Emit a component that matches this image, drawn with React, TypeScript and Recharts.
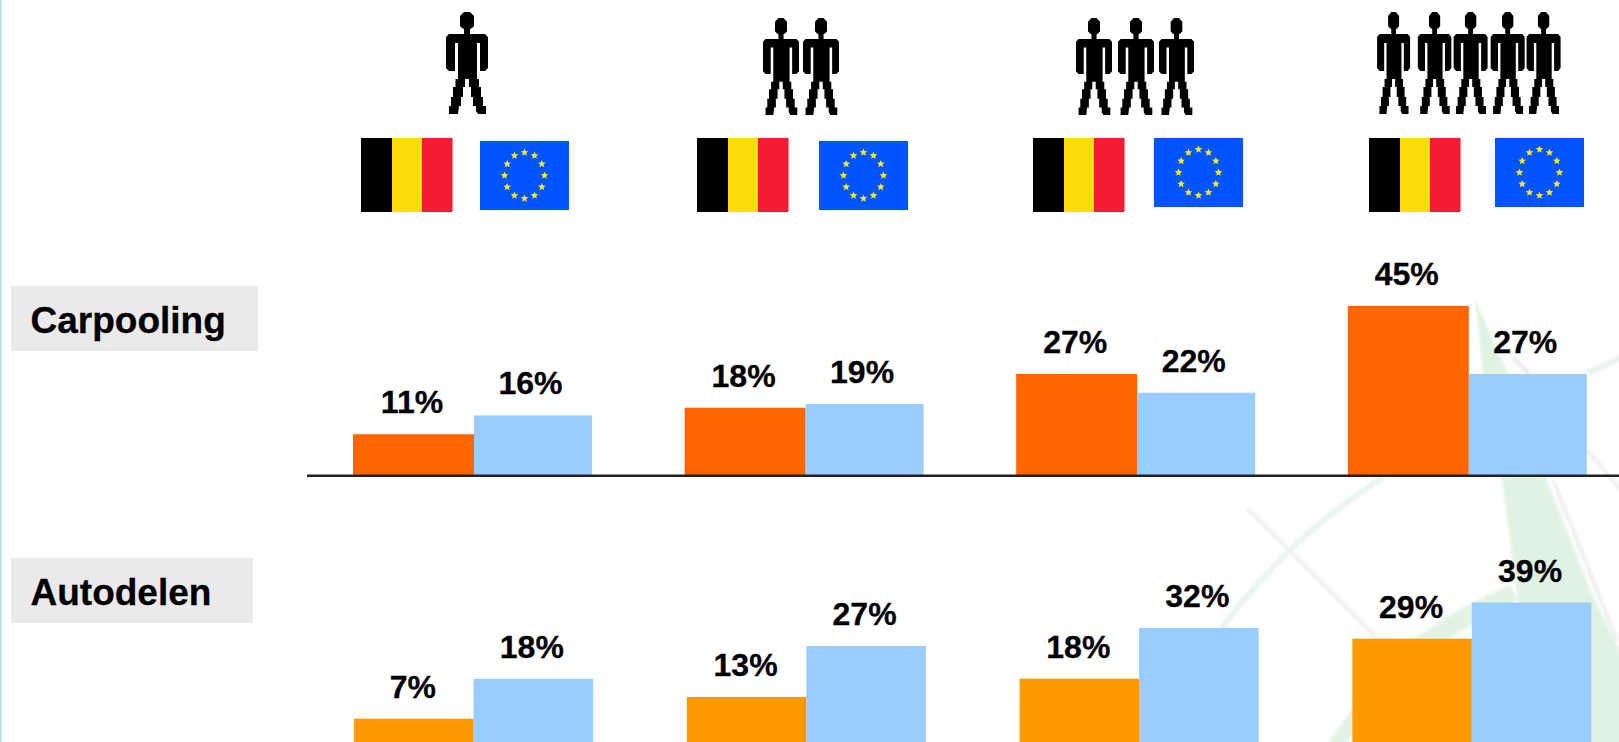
import React from "react";
import { BarChart, Bar, XAxis, YAxis, LabelList } from "recharts";

const categories = ["1 persoon", "2 personen", "3 personen", "5 personen"];
const carpoolingBelgium = [11, 18, 27, 45];
const carpoolingEurope = [16, 19, 22, 27];
const autodelenBelgium = [7, 13, 18, 29];
const autodelenEurope = [18, 27, 32, 39];

const carpoolingRows = categories.map((category, i) => ({
  category,
  belgium: carpoolingBelgium[i],
  europe: carpoolingEurope[i],
}));
const autodelenRows = categories.map((category, i) => ({
  category,
  belgium: autodelenBelgium[i],
  europe: autodelenEurope[i],
}));

const FONT = '"Liberation Sans", Arial, sans-serif';
const percent = (v: unknown) => `${v}%`;

const PERSON =
  "M-3,0 L3,0 L5,2 L7,4 L7,14 L5,16 L3,17 L3,22 L18,22 L21,25 L21,56 L18,59 L13,59 L13,31 L10,31 L10,67 L12,67 L12,75 L14,75 L14,85 L16,85 L16,94 L19,94 L19,102 L11,102 L9,99 L9,94 L6,94 L6,85 L4,85 L4,75 L2,75 L2,67 L-2,67 L-2,75 L-4,75 L-4,85 L-6,85 L-6,94 L-8,94 L-9,102 L-18,102 L-18,94 L-16,94 L-16,85 L-14,85 L-14,75 L-11.5,75 L-11.5,67 L-9,67 L-9,31 L-12,31 L-12,59 L-18,59 L-21,56 L-21,25 L-18,22 L-3,22 L-3,17 L-5,16 L-7,14 L-7,4 L-5,2 Z";

const people = [
  { cx: 467, top: 12, w: 42, h: 102 },
  { cx: 781, top: 18, w: 36, h: 97 },
  { cx: 821, top: 18, w: 36, h: 97 },
  { cx: 1094, top: 18, w: 36, h: 97 },
  { cx: 1136, top: 18, w: 36, h: 97 },
  { cx: 1176.5, top: 18, w: 35, h: 97 },
  { cx: 1393.6, top: 12, w: 33, h: 102 },
  { cx: 1434.6, top: 12, w: 33.5, h: 102 },
  { cx: 1470.6, top: 12, w: 34, h: 102 },
  { cx: 1507.7, top: 12, w: 34, h: 102 },
  { cx: 1543.6, top: 12, w: 34, h: 102 },
];

const belgianFlags = [361, 697, 1033, 1369];
const euFlags = [
  { x: 480, y: 141 },
  { x: 819, y: 141 },
  { x: 1154, y: 138 },
  { x: 1495, y: 138 },
];

function starPoints(cx: number, cy: number, r: number) {
  const pts: string[] = [];
  for (let i = 0; i < 10; i++) {
    const a = -Math.PI / 2 + (i * Math.PI) / 5;
    const rr = i % 2 === 0 ? r : r * 0.45;
    pts.push(`${(cx + rr * Math.cos(a)).toFixed(2)},${(cy + rr * Math.sin(a)).toFixed(2)}`);
  }
  return pts.join(" ");
}

function BelgianFlag({ x }: { x: number }) {
  return (
    <g>
      <rect x={x} y={138} width={31} height={74} fill="#000000" />
      <rect x={x + 31} y={138} width={30.5} height={74} fill="#FFDB0C" />
      <rect x={x + 61} y={138} width={30.5} height={74} fill="#F51B33" />
    </g>
  );
}

function EuFlag({ x, y }: { x: number; y: number }) {
  const cx = x + 44.5;
  const cy = y + 34.5;
  return (
    <g>
      <rect x={x} y={y} width={89} height={69} fill="#0055FF" />
      {Array.from({ length: 12 }, (_, i) => {
        const a = (i * Math.PI) / 6;
        return (
          <polygon
            key={i}
            points={starPoints(cx + 20 * Math.sin(a), cy - 23 * Math.cos(a), 4)}
            fill="#FFEA1E"
          />
        );
      })}
    </g>
  );
}

function Backdrop() {
  return (
    <svg
      width={1619}
      height={742}
      style={{ position: "absolute", left: 0, top: 0 }}
    >
      <defs>
        <filter id="soft" x="-5%" y="-5%" width="110%" height="110%">
          <feGaussianBlur stdDeviation="1.6" />
        </filter>
      </defs>
      <rect x={0} y={0} width={1619} height={742} fill="#FFFFFF" />
      <rect x={0} y={0} width={1.5} height={742} fill="#B5E5DA" />

      {/* pale watermark */}
      <g filter="url(#soft)">
        <polygon
          points="1475,299 1483,373 1502,480 1518,600 1522,760 1640,760 1640,690 1593,597 1547,480 1513,385"
          fill="#E0F3E3"
        />
        <path
          d="M1327,745 Q1370,680 1417,637 Q1460,606 1510,585 L1518,600 Q1470,625 1430,650 Q1385,690 1345,745 Z"
          fill="#E2F3E5"
        />
        <path
          d="M1383,477 Q1330,512 1290,550 Q1250,590 1220,630"
          fill="none"
          stroke="#E8F4F0"
          strokeWidth={6}
        />
        <path d="M1247,508 L1377,638" fill="none" stroke="#EFF0EF" strokeWidth={4} />
        <path d="M1553,480 L1617,640" fill="none" stroke="#EDEFEE" strokeWidth={4} />
        <path d="M1587,450 L1625,495" fill="none" stroke="#EEEEEE" strokeWidth={4} />
        <path d="M1513,357 L1530,375" fill="none" stroke="#E6E9E6" strokeWidth={4} />
        <path d="M1587,373 L1625,356" fill="none" stroke="#EAF2EC" strokeWidth={6} />
      </g>

      {/* category boxes */}
      <rect x={11} y={286} width={247} height={65} fill="#EAEAEA" />
      <rect x={11} y={558} width={242} height={65} fill="#EAEAEA" />
      <text x={30.5} y={333} fontFamily={FONT} fontWeight={700} fontSize={37} fill="#000" stroke="#000" strokeWidth={0.3}>
        Carpooling
      </text>
      <text x={30.5} y={605} fontFamily={FONT} fontWeight={700} fontSize={37} fill="#000" stroke="#000" strokeWidth={0.3}>
        Autodelen
      </text>

      {/* pictograms */}
      {people.map((p, i) => (
        <path
          key={i}
          d={PERSON}
          fill="#000"
          transform={`translate(${p.cx} ${p.top}) scale(${p.w / 42} ${p.h / 102})`}
        />
      ))}
      {belgianFlags.map((x) => (
        <BelgianFlag key={x} x={x} />
      ))}
      {euFlags.map((f) => (
        <EuFlag key={f.x} x={f.x} y={f.y} />
      ))}
    </svg>
  );
}

const labelStyle = {
  fontFamily: FONT,
  fontWeight: 700,
  fontSize: 32,
  fill: "#000",
  stroke: "#000",
  strokeWidth: 0.3,
};

export default function App() {
  return (
    <div
      style={{
        position: "absolute",
        left: 0,
        top: 0,
        width: 1619,
        height: 742,
        overflow: "hidden",
        background: "#fff",
      }}
    >
      <Backdrop />
      <div style={{ position: "absolute", left: 0, top: 0 }}>
        <BarChart
          width={1640}
          height={490}
          data={carpoolingRows}
          barGap={0}
          margin={{ top: 287.2, right: 6.6, bottom: 4.3, left: 307 }}
        >
          <XAxis
            dataKey="category"
            tick={false}
            tickLine={false}
            height={10}
            axisLine={{ stroke: "#222222", strokeWidth: 2.4 }}
          />
          <YAxis hide domain={[0, 50]} />
          <Bar dataKey="belgium" barSize={121} fill="#FF6600" isAnimationActive={false}>
            <LabelList dataKey="belgium" position="top" offset={21} dx={-1.5} formatter={percent} style={labelStyle} />
          </Bar>
          <Bar dataKey="europe" barSize={118} fill="#99CCFF" isAnimationActive={false}>
            <LabelList dataKey="europe" position="top" offset={21} dx={-2.5} formatter={percent} style={labelStyle} />
          </Bar>
        </BarChart>
      </div>
      <div style={{ position: "absolute", left: 0, top: 0 }}>
        <BarChart
          width={1640}
          height={760}
          data={autodelenRows}
          barGap={0}
          margin={{ top: 562.6, right: 1.9, bottom: 15.9, left: 307.1 }}
        >
          <XAxis dataKey="category" hide />
          <YAxis hide domain={[0, 50]} />
          <Bar dataKey="belgium" barSize={119.5} fill="#FF9900" isAnimationActive={false}>
            <LabelList dataKey="belgium" position="top" offset={21} dx={-1} formatter={percent} style={labelStyle} />
          </Bar>
          <Bar dataKey="europe" barSize={119.5} fill="#99CCFF" isAnimationActive={false}>
            <LabelList dataKey="europe" position="top" offset={21} dx={-1.5} formatter={percent} style={labelStyle} />
          </Bar>
        </BarChart>
      </div>
    </div>
  );
}
